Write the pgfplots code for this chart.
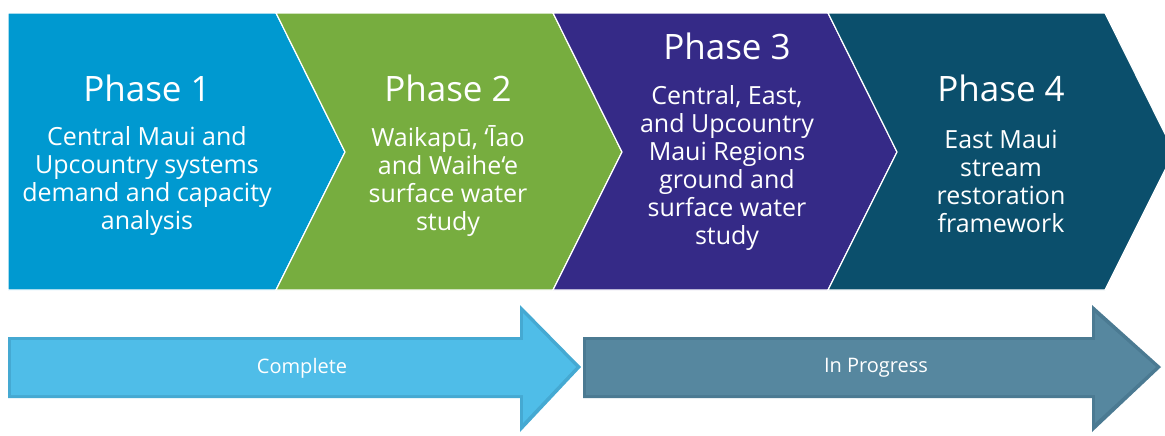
\documentclass[border=0pt]{standalone}
\usepackage{fontspec}
\setmainfont{Open Sans}
\usepackage{pgfplots}
\pgfplotsset{compat=1.18}
\definecolor{pone}{HTML}{0099D0}
\definecolor{ptwo}{HTML}{77AD3F}
\definecolor{pthree}{HTML}{352A87}
\definecolor{pfour}{HTML}{0B4F6C}
\definecolor{cfill}{HTML}{4FBDE8}
\definecolor{cedge}{HTML}{45A9D2}
\definecolor{ifill}{HTML}{56879F}
\definecolor{iedge}{HTML}{4B7A92}
\begin{document}
\begin{tikzpicture}
\begin{axis}[
  width=582.5pt, height=217.5pt, scale only axis,
  xmin=0, xmax=1165, ymin=0, ymax=435, y dir=reverse,
  hide axis, no markers, clip=true,
]
\path (rel axis cs:0,0) rectangle (rel axis cs:1,1);
% chevrons
\addplot[fill=pone, draw=white, line width=0.6pt] coordinates {(8,13) (276,13) (345,152) (276,290) (8,290) (8,13)};
\addplot[fill=ptwo, draw=white, line width=0.6pt] coordinates {(276,13) (553,13) (622,152) (553,290) (276,290) (345,152) (276,13)};
\addplot[fill=pthree, draw=white, line width=0.6pt] coordinates {(553,13) (828,13) (897,152) (828,290) (553,290) (622,152) (553,13)};
\addplot[fill=pfour, draw=white, line width=0.6pt] coordinates {(828,13) (1105,13) (1174,152) (1105,290) (828,290) (897,152) (828,13)};
% bottom arrows
\addplot[fill=cedge, draw=none] coordinates {(8,337) (520,337) (520,305) (581,367) (520,432) (520,398) (8,398) (8,337)};
\addplot[fill=cfill, draw=none] coordinates {(11,340) (523,340) (523,313) (576,367) (523,423) (523,395) (11,395) (11,340)};
\addplot[fill=iedge, draw=none] coordinates {(583,337) (1092,337) (1092,305) (1161,367) (1092,432) (1092,398) (583,398) (583,337)};
\addplot[fill=ifill, draw=none] coordinates {(586,340) (1095,340) (1095,313) (1156,367) (1095,423) (1095,395) (586,395) (586,340)};
% titles
\begin{scope}[every node/.style={text=white, inner sep=0pt}]
\node[font=\fontsize{17.5}{21}\selectfont] at (axis cs:147,88) {Phase 1};
\node[font=\fontsize{17.5}{21}\selectfont] at (axis cs:448,88) {Phase 2};
\node[font=\fontsize{17.5}{21}\selectfont] at (axis cs:727,46) {Phase 3};
\node[font=\fontsize{17.5}{21}\selectfont] at (axis cs:1001,88) {Phase 4};
\node[font=\fontsize{12.5}{14}\selectfont, align=center] at (axis cs:147,181) {Central Maui and\\Upcountry systems\\demand and capacity\\analysis};
\node[font=\fontsize{12.5}{14}\selectfont, align=center] at (axis cs:448,181) {Waikapū, ‘Īao\\and Waihe‘e\\surface water\\study};
\node[font=\fontsize{12.5}{14}\selectfont, align=center] at (axis cs:727,168) {Central, East,\\and Upcountry\\Maui Regions\\ground and\\surface water\\study};
\node[font=\fontsize{12.5}{14}\selectfont, align=center] at (axis cs:1001,181) {East Maui\\stream\\restoration\\framework};
\node[font=\fontsize{10}{12}\selectfont] at (axis cs:302,368) {Complete};
\node[font=\fontsize{10}{12}\selectfont] at (axis cs:876,368) {In Progress};
\end{scope}
\end{axis}
\end{tikzpicture}
\end{document}
